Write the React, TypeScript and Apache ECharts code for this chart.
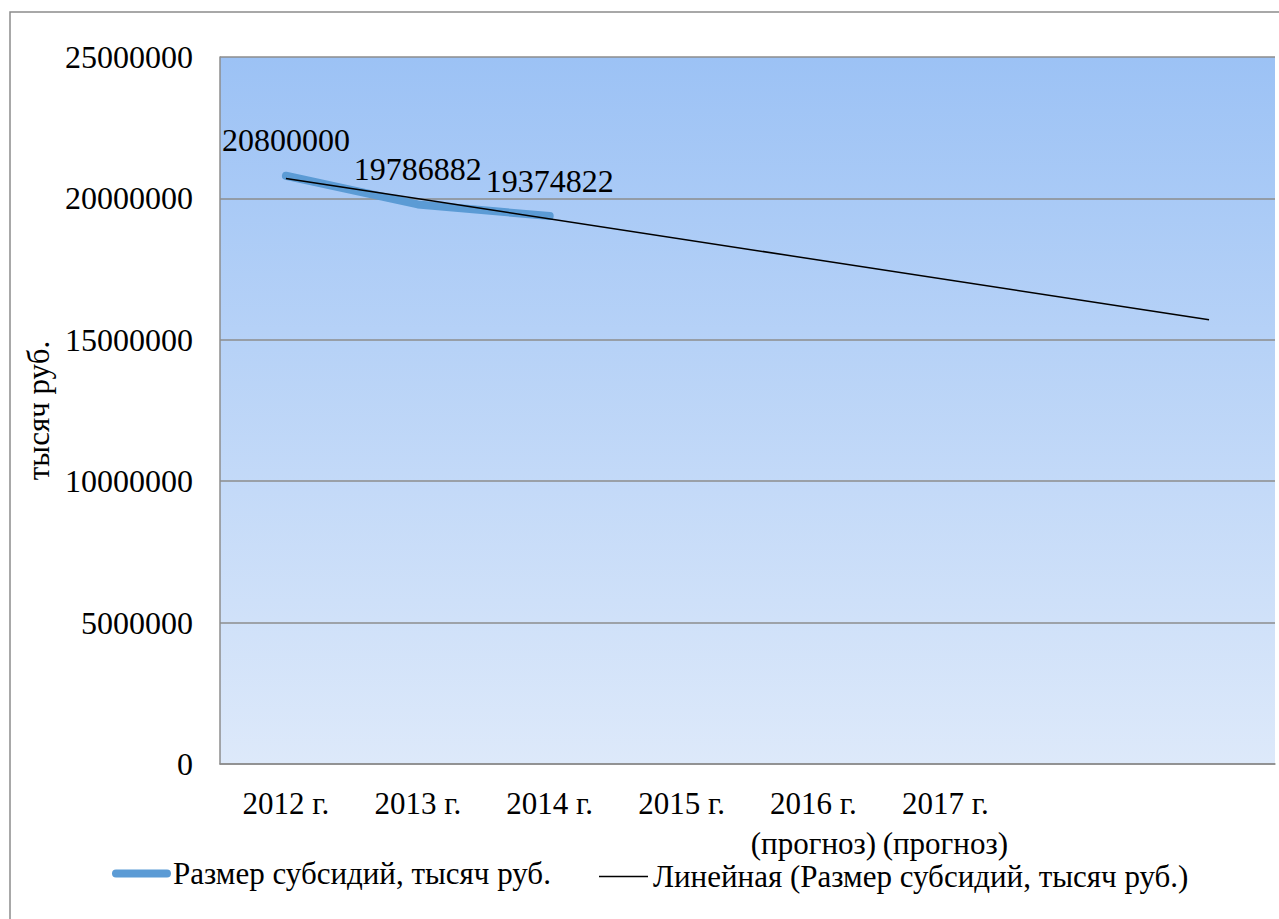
import React, { useEffect, useRef } from "react";
import * as echarts from "echarts";

const categories = [
  "2012 г.",
  "2013 г.",
  "2014 г.",
  "2015 г.",
  "2016 г.\n(прогноз)",
  "2017 г.\n(прогноз)",
  "",
  "",
];
const subsidies = [20800000, 19786882, 19374822, null, null, null, null, null];
const trend = [20700000, null, null, null, null, null, null, 15710000];
const yTicks = [0, 5000000, 10000000, 15000000, 20000000, 25000000];

const seriesName = "Размер субсидий, тысяч руб.";
const trendName = "Линейная (Размер субсидий, тысяч руб.)";
const FONT = "'Liberation Serif', 'Times New Roman', serif";

export default function App() {
  const ref = useRef<HTMLDivElement>(null);
  useEffect(() => {
    document.body.style.margin = "0";
    const chart = echarts.init(ref.current!, null, { renderer: "svg" });
    chart.setOption({
      animation: false,
      backgroundColor: "#ffffff",
      textStyle: { fontFamily: FONT, color: "#000" },
      graphic: [
        {
          type: "rect",
          shape: { x: 10, y: 12, width: 1400, height: 1000 },
          style: { fill: "none", stroke: "#8c8c8c", lineWidth: 1.5 },
          silent: true,
        },
      ],
      grid: {
        left: 220,
        top: 57,
        right: 4,
        bottom: 155,
        show: true,
        borderWidth: 0,
        backgroundColor: new echarts.graphic.LinearGradient(0, 0, 0, 1, [
          { offset: 0, color: "#9cc2f5" },
          { offset: 1, color: "#dde9fa" },
        ]),
      },
      legend: [
        {
          data: [{ name: seriesName }],
          icon: "path://M4,0 H55 A4,4 0 0 1 55,8 H4 A4,4 0 0 1 4,0 Z",
          left: 107,
          top: 853,
          itemWidth: 59,
          itemHeight: 8,
          textStyle: { fontFamily: FONT, fontSize: 31, color: "#000", padding: [0, 0, 0, -3] },
        },
        {
          data: [{ name: trendName }],
          icon: "rect",
          left: 594,
          top: 856,
          itemWidth: 49,
          itemHeight: 1.5,
          textStyle: { fontFamily: FONT, fontSize: 31, color: "#000" },
        },
      ],
      xAxis: {
        type: "category",
        data: categories,
        boundaryGap: true,
        axisLine: { show: true, lineStyle: { color: "#8c8c8c", width: 1.5 } },
        axisTick: { show: false },
        axisLabel: {
          interval: 0,
          margin: 19,
          fontFamily: FONT,
          fontSize: 31,
          lineHeight: 40,
          color: "#000",
        },
      },
      yAxis: {
        type: "value",
        min: yTicks[0],
        max: yTicks[yTicks.length - 1],
        interval: yTicks[1] - yTicks[0],
        name: "тысяч руб.",
        nameLocation: "middle",
        nameGap: 155,
        nameTextStyle: { fontFamily: FONT, fontSize: 31, color: "#000" },
        axisLine: { show: true, lineStyle: { color: "#8c8c8c", width: 1.5 } },
        axisTick: { show: false },
        splitLine: { show: true, lineStyle: { color: "#8c8c8c", width: 1.5 } },
        axisLabel: {
          margin: 27,
          fontFamily: FONT,
          fontSize: 32,
          color: "#000",
          formatter: (v: number) => String(v),
        },
      },
      series: [
        {
          name: seriesName,
          type: "line",
          data: subsidies,
          symbol: "circle",
          symbolSize: 1,
          showSymbol: true,
          color: "#5b9bd5",
          itemStyle: { color: "#5b9bd5" },
          lineStyle: { width: 8, color: "#5b9bd5", cap: "round", join: "round" },
          label: {
            show: true,
            position: "top",
            distance: 19,
            fontFamily: FONT,
            fontSize: 32,
            color: "#000",
          },
          z: 2,
        },
        {
          name: trendName,
          type: "line",
          data: trend,
          connectNulls: true,
          symbol: "none",
          color: "#000",
          itemStyle: { color: "#000" },
          lineStyle: { width: 1.5, color: "#000" },
          z: 3,
        },
      ],
    });
    return () => chart.dispose();
  }, []);
  return <div ref={ref} style={{ width: 1279, height: 919 }} />;
}
